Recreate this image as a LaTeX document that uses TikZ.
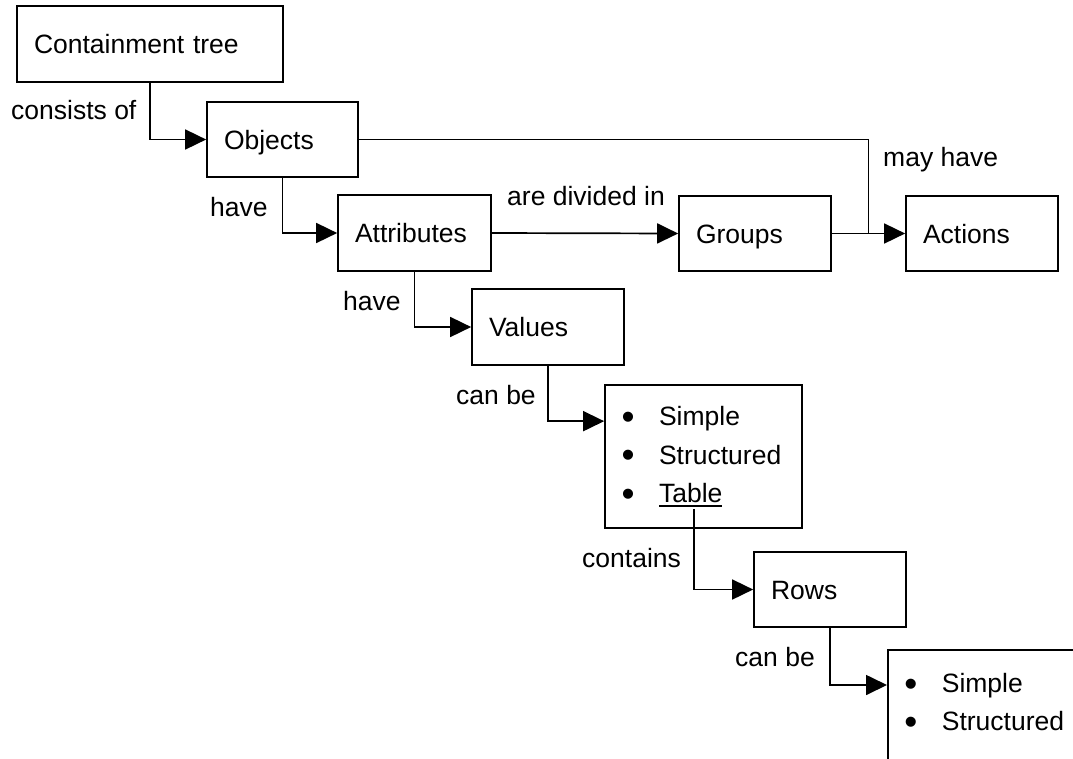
\documentclass[tikz,border=0pt]{standalone}
\usepackage{fontspec}
\setmainfont{Liberation Sans}
\usetikzlibrary{arrows.meta,calc}
% underlined word with a rule as thick as the connectors
\newcommand\ulined[1]{\setbox0\hbox{#1}\rlap{\rule[-4pt]{\wd0}{1.7pt}}\box0}
% enlarged bullet followed by a fixed indent
\newcommand\itm{\makebox[36pt][l]{\hspace{-1.5pt}\raisebox{-3.6pt}{\scalebox{1.4}{\textbullet}}}}
\tikzset{
  box/.style={draw, line width=1.7pt, inner xsep=17pt, inner ysep=0pt,
    minimum width=#1, text width=\the\dimexpr#1pt-34pt\relax, align=left,
    text height=19pt, text depth=0pt},
  listbox/.style={draw, line width=1.7pt, inner xsep=18pt, inner ysep=0pt,
    minimum width=#1, text width=\the\dimexpr#1pt-36pt\relax, align=left},
  lbl/.style={anchor=base west, inner sep=0pt},
  line/.style={line width=1.7pt},
  conn/.style={line, -{Triangle[length=21pt,width=20pt]}},
}
\begin{document}
\begin{tikzpicture}[x=1pt,y=-1pt,font=\fontsize{26.5}{38.5}\selectfont]
\useasboundingbox (0,0) rectangle (1073,758);
\clip (0,0) rectangle (1073,758);

% concept boxes
\node[box=266, minimum height=76] (ct)   at (150,44)    {Containment tree};
\node[box=151, minimum height=75] (obj)  at (282.5,139.5) {Objects};
\node[box=153, minimum height=76] (attr) at (414.5,233) {Attributes};
\node[box=152, minimum height=75] (grp)  at (755,233.5) {Groups};
\node[box=152, minimum height=75] (act)  at (982,233.5) {Actions};
\node[box=152, minimum height=76] (vals) at (548,327)   {Values};
\node[box=152, minimum height=75] (rows) at (830,589.5) {Rows};

% value kinds and row kinds
\node[listbox=197, minimum height=143] (lst) at (703.5,456.5)
  {\itm Simple\\ \itm Structured\\ \itm \ulined{Table}};
\node[listbox=197, minimum height=143, anchor=north west] (sub) at (887,649)
  {\itm Simple\\ \itm Structured\\ \mbox{}};

% helper points
\coordinate (j)   at ($(grp.east)!0.5!(act.west)$);
\coordinate (tbl) at ($(lst.north west)+(90,125)$);

% connectors
\draw[conn] (ct.south)   |- (obj.west);
\draw[conn] (obj.south)  |- (attr.west);
\draw[conn] (attr.south) |- (vals.west);
\draw[conn] (vals.south) |- ($(lst.north west)+(0,37)$);
\draw[conn] (attr.east)  -- (grp.west);
\draw[conn] (grp.east)   -- (act.west);
\draw[line] (obj.east)   -| (j);
\draw[conn] (tbl)        |- (rows.west);
\draw[conn] (rows.south) |- ($(sub.north west)+(0,36)$);

% relation labels
\node[lbl] (l1) at (11,119)    {consists of};
\node[lbl] (l2) at (210,216)   {have};
\node[lbl] (l3) at (507,205.5) {are divided in};
\node[lbl] (l4) at (883,166.5) {may have};
\node[lbl] (l5) at (343,310)   {have};
\node[lbl] (l6) at (456,404)   {can be};
\node[lbl] (l7) at (582,567)   {contains};
\node[lbl] (l8) at (735,666)   {can be};
\end{tikzpicture}
\end{document}
